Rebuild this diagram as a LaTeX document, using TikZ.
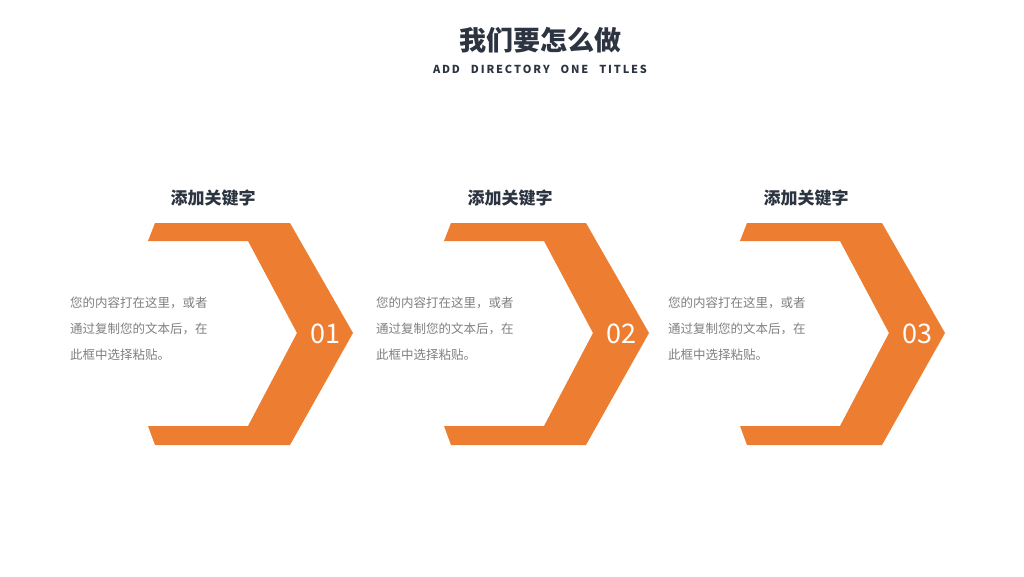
\documentclass[tikz,border=0pt]{standalone}
\usepackage{fontspec}
\setmainfont{Noto Sans CJK SC}
\definecolor{org}{HTML}{ED7D31}
\definecolor{dark}{HTML}{2B3440}
\definecolor{txt}{HTML}{7F7F7F}
\begin{document}
\begin{tikzpicture}[x=1pt,y=-1pt,
  head/.style={font=\fontsize{17}{17}\selectfont\bfseries,text=dark},
  body/.style={font=\fontsize{12.5}{26}\selectfont,text=txt,align=left,anchor=north west,inner sep=0pt,text width=200pt},
  num/.style={font=\fontsize{27}{27}\selectfont,text=white}]
\useasboundingbox (0,0) rectangle (1024,576);
\node[font=\fontsize{27}{27}\selectfont\bfseries,text=dark] (title) at (540,40) {我们要怎么做};
\node[font=\fontsize{11}{11}\selectfont\bfseries,text=dark] (sub) at (540,69) {A\,D\,D\quad D\,I\,R\,E\,C\,T\,O\,R\,Y\quad O\,N\,E\quad T\,I\,T\,L\,E\,S};
\foreach \dx/\n/\tx/\hx [count=\i] in {0/01/70/213, 296/02/376/510, 592/03/668/806}{
  \begin{scope}[xshift=\dx]
  \fill[org] (155,223) -- (290,223) -- (353,333) -- (290,445) -- (155,445) -- (148,426) -- (248,426) -- (297,333) -- (248,241) -- (148,241) -- cycle;
  \node[num] (n\i) at (325,334) {\n};
  \end{scope}
  \node[head] (h\i) at (\hx,198) {添加关键字};
  \node[body] (b\i) at (\tx,297) {您的内容打在这里，或者\\通过复制您的文本后，在\\此框中选择粘贴。};
}
\end{tikzpicture}
\end{document}
